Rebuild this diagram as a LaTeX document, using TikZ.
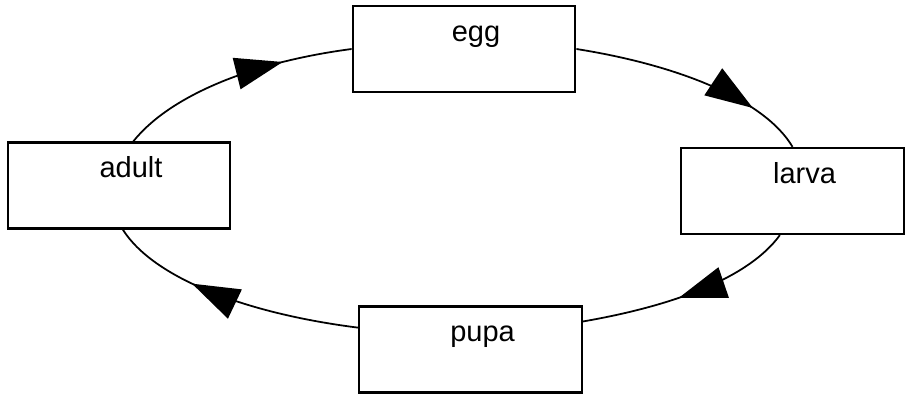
\documentclass[tikz,border=0pt]{standalone}
\usepackage{fontspec}
\setmainfont{Liberation Sans}
\usetikzlibrary{arrows.meta,decorations.markings}
\tikzstyle{block} =
  [rectangle, draw, line width=1.3pt,
   minimum width=4.45cm, minimum height=1.72cm, inner sep=0pt]
\tikzstyle{tag}=[anchor=base, inner sep=0pt, xshift=2.4mm, yshift=-7.3mm,
  font=\fontsize{16.5}{20}\selectfont]
\tikzstyle{cycle}=[draw, line width=1pt]
\tikzset{mid/.style={postaction={decorate},
  decoration={markings, mark=at position #1 with
    {\arrow{Triangle[length=9.5mm,width=6.4mm]}}}}}

\begin{document}
\begin{tikzpicture}
  \useasboundingbox (0,0) rectangle (18.4,7.88);

  \node [block, label={[tag]north:egg}] (egg) at (9.28,6.90) {};
  \node [block, label={[tag]north:larva}] (larva) at (15.85,4.06) {};
  \node [block, label={[tag]north:pupa}] (pupa) at (9.41,0.89) {};
  \node [block, label={[tag]north:adult}] (adult) at (2.38,4.17) {};

  % the cycle, clockwise
  \draw [cycle, mid=0.77] (egg.east) to [out=-9, in=120.5,
    out distance=2.12cm, in distance=1.07cm] (larva.north);
  \draw [cycle, mid=0.55] (larva.-106) to [out=-126, in=9.8,
    out distance=1.02cm, in distance=1.92cm] (pupa.14);
  \draw [cycle, mid=0.66] (pupa.169) to [out=172.8, in=-57.7,
    out distance=2.28cm, in distance=1.14cm] (adult.-85);
  \draw [cycle, mid=0.71] (adult.72) to [out=51.5, in=-172.5,
    out distance=1.12cm, in distance=2.1cm] (egg.west);
\end{tikzpicture}
\end{document}
